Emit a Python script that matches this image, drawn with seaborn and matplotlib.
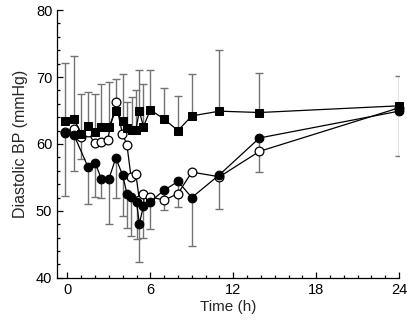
import matplotlib
matplotlib.use("Agg")
import matplotlib.pyplot as plt
import seaborn as sns
import pandas as pd
from matplotlib.ticker import MultipleLocator

# ---- data ----
sq_time = [-0.2, 0.48, 1.0, 1.5, 2.0, 2.45, 3.0, 3.5, 4.0, 4.3, 4.65, 4.95, 5.2, 5.5, 6.0, 7.0, 8.0, 9.0, 11.0, 13.9, 24.0]
sq_val = [63.4, 63.7, 61.5, 62.7, 61.8, 62.5, 62.6, 64.9, 63.4, 62.4, 62.1, 62.1, 64.9, 62.6, 65.1, 63.7, 62.0, 64.2, 64.9, 64.7, 65.7]
sq_upper = [72.1, 73.2, 67.4, 67.7, 67.4, 68.9, 69.2, 69.7, 70.5, 66.3, 67.0, 68.1, 71.1, 69.0, 71.0, 68.4, 67.1, 70.5, 74.1, 70.6, 70.2]

oc_time = [-0.2, 0.48, 1.0, 1.46, 1.97, 2.43, 2.9, 3.5, 3.98, 4.3, 4.6, 4.95, 5.2, 5.5, 6.0, 7.0, 8.0, 9.0, 11.0, 13.9, 24.0]
oc_val = [61.8, 62.3, 61.0, 61.8, 60.1, 60.3, 60.6, 66.2, 61.5, 59.9, 55.1, 55.5, 51.7, 52.5, 52.1, 51.6, 52.6, 55.8, 55.1, 58.9, 65.4]
oc_bar_time = [1.0]
oc_bar_val = [61.0]
oc_bar_lower = [57.8]

fc_time = [-0.2, 0.48, 1.5, 2.0, 2.45, 3.0, 3.5, 4.0, 4.3, 4.6, 5.0, 5.2, 5.5, 6.0, 7.0, 8.0, 9.0, 11.0, 13.9, 24.0]
fc_val = [61.6, 61.3, 56.5, 57.2, 54.8, 54.8, 57.9, 55.3, 52.6, 52.1, 51.3, 48.1, 50.7, 51.4, 53.1, 54.4, 52.0, 55.4, 60.9, 64.9]
fc_lower = [52.2, 56.0, 51.0, 52.1, 51.9, 48.1, 51.9, 49.2, 47.4, 46.3, 45.8, 42.4, 46.0, 47.3, 50.1, 50.6, 44.8, 50.3, 55.8, 58.2]

x_ticks = [0, 6, 12, 18, 24]
y_ticks = [40, 50, 60, 70, 80]

sns.set_style("ticks")
plt.rcParams['font.family'] = ['Liberation Sans', 'DejaVu Sans']

fig = plt.figure(figsize=(4.08, 3.25), dpi=100)
ax = fig.add_axes([0.14, 0.145, 0.838, 0.824])

bar_kw = dict(fmt='none', ecolor='0.45', elinewidth=1.0, capsize=2.8, capthick=1.0, zorder=1)

# error bars
ax.errorbar(sq_time, sq_val,
            yerr=[[0] * len(sq_val), [u - v for u, v in zip(sq_upper, sq_val)]], **bar_kw)
ax.errorbar(fc_time, fc_val,
            yerr=[[v - l for v, l in zip(fc_val, fc_lower)], [0] * len(fc_val)], **bar_kw)
ax.errorbar(oc_bar_time, oc_bar_val,
            yerr=[[v - l for v, l in zip(oc_bar_val, oc_bar_lower)], [0]], **bar_kw)

df_sq = pd.DataFrame({"t": sq_time, "v": sq_val})
df_oc = pd.DataFrame({"t": oc_time, "v": oc_val})
df_fc = pd.DataFrame({"t": fc_time, "v": fc_val})

sns.lineplot(data=df_oc, x="t", y="v", ax=ax, sort=False, estimator=None, color="black",
             lw=0.9, marker="o", markersize=6.3, markerfacecolor="white", markeredgecolor="black",
             markeredgewidth=0.9, zorder=3, clip_on=False)
sns.lineplot(data=df_fc, x="t", y="v", ax=ax, sort=False, estimator=None, color="black",
             lw=0.9, marker="o", markersize=6.3, markerfacecolor="black", markeredgecolor="black",
             zorder=4, clip_on=False)
sns.lineplot(data=df_sq, x="t", y="v", ax=ax, sort=False, estimator=None, color="black",
             lw=0.9, marker="s", markersize=6.3, markerfacecolor="black", markeredgecolor="black",
             zorder=5, clip_on=False)

ax.set_xlim(-0.75, 24)
ax.set_ylim(40, 80)
ax.set_xticks(x_ticks)
ax.set_yticks(y_ticks)
ax.xaxis.set_minor_locator(MultipleLocator(1))
ax.yaxis.set_minor_locator(MultipleLocator(2))
ax.tick_params(which='both', direction='in', labelsize=10.5, width=0.9, colors='black')
ax.tick_params(which='major', length=4)
ax.tick_params(which='minor', length=2.5)
sns.despine(ax=ax)
for s in ['left', 'bottom']:
    ax.spines[s].set_linewidth(0.9)
    ax.spines[s].set_color('black')

ax.set_xlabel("Time (h)", fontsize=11, labelpad=2)
ax.set_ylabel("Diastolic BP (mmHg)", fontsize=11.5, labelpad=6)

fig.savefig("out.png", dpi=100)
